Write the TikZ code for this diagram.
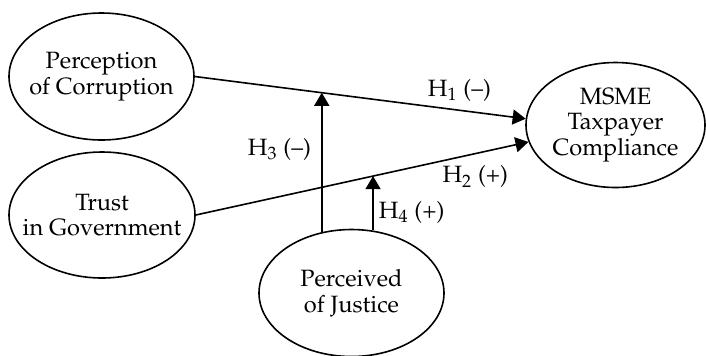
\documentclass[tikz,border=0pt]{standalone}
\usepackage[T1]{fontenc}
\usepackage{mathpazo}
\usetikzlibrary{arrows.meta,shapes.geometric}
\newcommand{\zline}[1]{\makebox[0pt]{#1}}
\tikzset{
  latent/.style={draw,ellipse,line width=0.8pt,inner sep=0pt,align=center,font=\fontsize{11.8}{12.8}\selectfont},
  link/.style={-{Triangle[length=6.5pt,width=7.5pt]},line width=0.8pt},
  hyp/.style={font=\fontsize{11.8}{13}\selectfont}
}
\begin{document}
\begin{tikzpicture}[x=0.5pt,y=-0.5pt]
  \useasboundingbox (0,0) rectangle (706,355);
  % constructs
  \node[latent,minimum width=92.5pt,minimum height=63.5pt] (pc) at (101.5,76.5) {\zline{Perception}\\\zline{of Corruption}};
  \node[latent,minimum width=93pt,minimum height=63pt] (tg) at (102,215) {\zline{Trust}\\\zline{in Government}};
  \node[latent,minimum width=89.5pt,minimum height=62.5pt] (msme) at (615.5,125) {\zline{MSME}\\\zline{Taxpayer}\\\zline{Compliance}};
  \node[latent,minimum width=92.5pt,minimum height=63.5pt] (pj) at (351.5,293) {\zline{Perceived}\\\zline{of Justice}};
  % direct effects
  \draw[link] (pc.east) -- (msme.176) coordinate[pos=0.3854] (h3top) node[hyp,pos=0.8,above=0.6pt] {H\textsubscript{1} (--)};
  \draw[link] (tg.east) -- (msme.191) coordinate[pos=0.532] (h4top) node[hyp,pos=0.84,below=2.4pt] {H\textsubscript{2} (+)};
  % moderation
  \draw[link] (pj.116) -- (pj.116 |- h3top) node[hyp,pos=0.593,left=1.7pt] {H\textsubscript{3} (--)};
  \draw[link] (pj.71) -- (pj.71 |- h4top) node[hyp,pos=0.34,right=-0.8pt] {H\textsubscript{4} (+)};
\end{tikzpicture}
\end{document}
